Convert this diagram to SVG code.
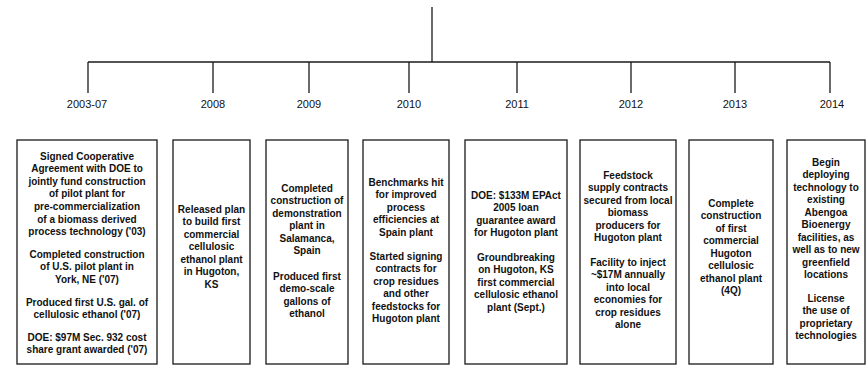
<svg xmlns="http://www.w3.org/2000/svg" width="867" height="367" viewBox="0 0 867 367">
<style>
.bg{fill:#ffffff}
.ln{stroke:#1a1a1a;stroke-width:1.3;fill:none}
.box{fill:#ffffff;stroke:#1a1a1a;stroke-width:1.3}
.yr{font-family:"Liberation Sans Narrow","Liberation Sans",Arial,sans-serif;font-size:11px;fill:#111;text-anchor:middle}
.t{font-family:"Liberation Sans",Arial,sans-serif;font-size:10px;font-weight:bold;fill:#111;text-anchor:middle}
</style>
<rect class="bg" x="0" y="0" width="867" height="367"/>
<g id="connectors">
<line class="ln" x1="432" y1="7" x2="432" y2="62"/>
<line class="ln" x1="88" y1="62" x2="830" y2="62"/>
<line class="ln" x1="88" y1="62" x2="88" y2="93"/>
<line class="ln" x1="213" y1="62" x2="213" y2="93"/>
<line class="ln" x1="309" y1="62" x2="309" y2="93"/>
<line class="ln" x1="409" y1="62" x2="409" y2="93"/>
<line class="ln" x1="517" y1="62" x2="517" y2="93"/>
<line class="ln" x1="631" y1="62" x2="631" y2="93"/>
<line class="ln" x1="735" y1="62" x2="735" y2="93"/>
<line class="ln" x1="830" y1="62" x2="830" y2="93"/>
</g>
<g id="years">
<text class="yr" x="87" y="108">2003-07</text>
<text class="yr" x="213" y="108">2008</text>
<text class="yr" x="309" y="108">2009</text>
<text class="yr" x="409" y="108">2010</text>
<text class="yr" x="517" y="108">2011</text>
<text class="yr" x="631" y="108">2012</text>
<text class="yr" x="735" y="108">2013</text>
<text class="yr" x="832" y="108">2014</text>
</g>
<g id="box2003">
<rect class="box" x="17" y="140" width="140" height="224"/>
<text class="t"><tspan x="87" y="159.5">Signed Cooperative</tspan><tspan x="87" y="172.1">Agreement with DOE to</tspan><tspan x="87" y="184.7">jointly fund construction</tspan><tspan x="87" y="197.3">of pilot plant for</tspan><tspan x="87" y="209.9">pre-commercialization</tspan><tspan x="87" y="222.5">of a biomass derived</tspan><tspan x="87" y="235.1">process technology ('03)</tspan><tspan x="87" y="257.7">Completed construction</tspan><tspan x="87" y="270.3">of U.S. pilot plant in</tspan><tspan x="87" y="282.9">York, NE ('07)</tspan><tspan x="87" y="305.5">Produced first U.S. gal. of</tspan><tspan x="87" y="318.1">cellulosic ethanol ('07)</tspan><tspan x="87" y="340.7">DOE: $97M Sec. 932 cost</tspan><tspan x="87" y="353.3">share grant awarded ('07)</tspan></text>
</g>
<g id="box2008">
<rect class="box" x="173" y="140" width="77" height="224"/>
<text class="t"><tspan x="211.5" y="212.5">Released plan</tspan><tspan x="211.5" y="225">to build first</tspan><tspan x="211.5" y="237.5">commercial</tspan><tspan x="211.5" y="250">cellulosic</tspan><tspan x="211.5" y="262.5">ethanol plant</tspan><tspan x="211.5" y="275">in Hugoton,</tspan><tspan x="211.5" y="287.5">KS</tspan></text>
</g>
<g id="box2009">
<rect class="box" x="266" y="140" width="82" height="224"/>
<text class="t"><tspan x="307" y="191.5">Completed</tspan><tspan x="307" y="204">construction of</tspan><tspan x="307" y="216.5">demonstration</tspan><tspan x="307" y="229">plant in</tspan><tspan x="307" y="241.5">Salamanca,</tspan><tspan x="307" y="254">Spain</tspan><tspan x="307" y="279.5">Produced first</tspan><tspan x="307" y="292">demo-scale</tspan><tspan x="307" y="304.5">gallons of</tspan><tspan x="307" y="317">ethanol</tspan></text>
</g>
<g id="box2010">
<rect class="box" x="363" y="140" width="86" height="224"/>
<text class="t"><tspan x="406" y="185.5">Benchmarks hit</tspan><tspan x="406" y="198">for improved</tspan><tspan x="406" y="210.5">process</tspan><tspan x="406" y="223">efficiencies at</tspan><tspan x="406" y="235.5">Spain plant</tspan><tspan x="406" y="259.5">Started signing</tspan><tspan x="406" y="272">contracts for</tspan><tspan x="406" y="284.5">crop residues</tspan><tspan x="406" y="297">and other</tspan><tspan x="406" y="309.5">feedstocks for</tspan><tspan x="406" y="322">Hugoton plant</tspan></text>
</g>
<g id="box2011">
<rect class="box" x="465" y="140" width="102" height="224"/>
<text class="t"><tspan x="516" y="198.5">DOE: $133M EPAct</tspan><tspan x="516" y="211">2005 loan</tspan><tspan x="516" y="223.5">guarantee award</tspan><tspan x="516" y="236">for Hugoton plant</tspan><tspan x="516" y="260.5">Groundbreaking</tspan><tspan x="516" y="273">on Hugoton, KS</tspan><tspan x="516" y="285.5">first commercial</tspan><tspan x="516" y="298">cellulosic ethanol</tspan><tspan x="516" y="310.5">plant (Sept.)</tspan></text>
</g>
<g id="box2012">
<rect class="box" x="580" y="140" width="96" height="224"/>
<text class="t"><tspan x="628" y="178.5">Feedstock</tspan><tspan x="628" y="191">supply contracts</tspan><tspan x="628" y="203.5">secured from local</tspan><tspan x="628" y="216">biomass</tspan><tspan x="628" y="228.5">producers for</tspan><tspan x="628" y="241">Hugoton plant</tspan><tspan x="628" y="265.5">Facility to inject</tspan><tspan x="628" y="278">~$17M annually</tspan><tspan x="628" y="290.5">into local</tspan><tspan x="628" y="303">economies for</tspan><tspan x="628" y="315.5">crop residues</tspan><tspan x="628" y="328">alone</tspan></text>
</g>
<g id="box2013">
<rect class="box" x="689" y="140" width="84" height="224"/>
<text class="t"><tspan x="731" y="206.5">Complete</tspan><tspan x="731" y="219">construction</tspan><tspan x="731" y="231.5">of first</tspan><tspan x="731" y="244">commercial</tspan><tspan x="731" y="256.5">Hugoton</tspan><tspan x="731" y="269">cellulosic</tspan><tspan x="731" y="281.5">ethanol plant</tspan><tspan x="731" y="294">(4Q)</tspan></text>
</g>
<g id="box2014">
<rect class="box" x="787" y="140" width="78" height="224"/>
<text class="t"><tspan x="826" y="165.5">Begin</tspan><tspan x="826" y="178">deploying</tspan><tspan x="826" y="190.5">technology to</tspan><tspan x="826" y="203">existing</tspan><tspan x="826" y="215.5">Abengoa</tspan><tspan x="826" y="228">Bioenergy</tspan><tspan x="826" y="240.5">facilities, as</tspan><tspan x="826" y="253">well as to new</tspan><tspan x="826" y="265.5">greenfield</tspan><tspan x="826" y="278">locations</tspan><tspan x="826" y="301.5">License</tspan><tspan x="826" y="314">the use of</tspan><tspan x="826" y="326.5">proprietary</tspan><tspan x="826" y="339">technologies</tspan></text>
</g>
</svg>
